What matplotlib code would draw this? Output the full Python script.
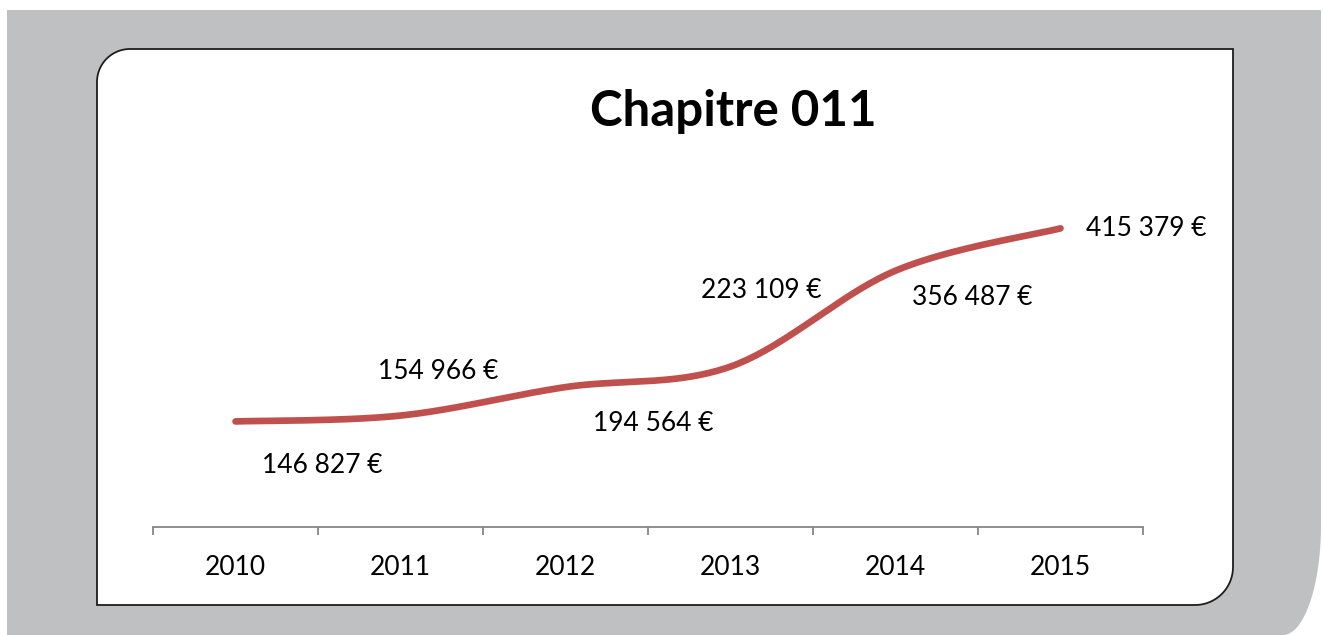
import numpy as np
import matplotlib.pyplot as plt
from matplotlib.patches import Polygon

plt.rcParams['font.family'] = ['Lato', 'DejaVu Sans']

# data
years = ['2010', '2011', '2012', '2013', '2014', '2015']
values = [146827, 154966, 194564, 223109, 356487, 415379]
# label offsets (pixels) relative to each point, as placed in the original
label_dx = [87, 38, 88, 31, 77, 26]
label_dy = [-44, 44, -36, 76, -27, 0]
label_ha = ['center', 'center', 'center', 'center', 'center', 'left']

W, H = 1323, 635
fig = plt.figure(figsize=(W / 100, H / 100), dpi=100)
fig.patch.set_facecolor('white')


def rounded_rect(x0, y0, x1, y1, radii, n=30):
    # radii: (rx, ry) for tl, tr, br, bl ; y axis points down
    (tlx, tly), (trx, try_), (brx, bry), (blx, bly) = radii
    corners = [
        (x0 + tlx, y0 + tly, tlx, tly, 180, 270),
        (x1 - trx, y0 + try_, trx, try_, 270, 360),
        (x1 - brx, y1 - bry, brx, bry, 0, 90),
        (x0 + blx, y1 - bly, blx, bly, 90, 180),
    ]
    pts = []
    for cx, cy, rx, ry, a0, a1 in corners:
        t = np.radians(np.linspace(a0, a1, n))
        pts.extend(zip(cx + rx * np.cos(t), cy + ry * np.sin(t)))
    return np.array(pts)


# background decoration
bg = fig.add_axes([0, 0, 1, 1])
bg.set_xlim(0, W)
bg.set_ylim(H, 0)
bg.axis('off')
bg.add_patch(Polygon(rounded_rect(7, 10, 1321, 635, [(0, 0), (0, 0), (38, 110), (0, 0)]),
                     closed=True, facecolor='#bfc0c2', edgecolor='none'))
bg.add_patch(Polygon(rounded_rect(97, 49, 1233, 605, [(33, 33), (0, 0), (38, 38), (0, 0)]),
                     closed=True, facecolor='white', edgecolor='#1e1e1e', linewidth=1.3))

# chart axes
y0_px, y_top_px = 527, 167.5
ax = fig.add_axes([153 / W, (H - y0_px) / H, (1143 - 153) / W, (y0_px - y_top_px) / H])
ax.patch.set_alpha(0)
x = np.arange(len(years))


def smooth(xs, ys, n=40):
    # Catmull-Rom style smoothing like the spreadsheet "smoothed line"
    px = np.concatenate([[xs[0]], xs, [xs[-1]]])
    py = np.concatenate([[ys[0]], ys, [ys[-1]]])
    outx, outy = [], []
    t = np.linspace(0, 1, n)
    for i in range(1, len(px) - 2):
        p0, p1, p2, p3 = (np.array([px[j], py[j]], dtype=float) for j in range(i - 1, i + 3))
        c1 = p1 + (p2 - p0) / 6
        c2 = p2 - (p3 - p1) / 6
        b = ((1 - t) ** 3)[:, None] * p1 + (3 * (1 - t) ** 2 * t)[:, None] * c1 \
            + (3 * (1 - t) * t ** 2)[:, None] * c2 + (t ** 3)[:, None] * p2
        outx.extend(b[:, 0])
        outy.extend(b[:, 1])
    return np.array(outx), np.array(outy)


sx, sy = smooth(x, np.array(values, dtype=float))
ax.plot(sx, sy, color='#c0504d', linewidth=4.8, solid_capstyle='round')

for i, v in enumerate(values):
    txt = f"{v:,}".replace(",", " ") + " €"
    ax.annotate(txt, (x[i], v), xytext=(label_dx[i], label_dy[i]), textcoords='offset pixels',
                ha=label_ha[i], va='center', fontsize=19, color='black')

ax.set_xlim(-0.5, len(years) - 0.5)
ax.set_ylim(0, 500000)
for s in ['top', 'right', 'left']:
    ax.spines[s].set_visible(False)
ax.spines['bottom'].set_color('#868686')
ax.spines['bottom'].set_linewidth(1.3)
ax.set_yticks([])
ax.set_xticks(np.arange(-0.5, len(years), 1.0))
ax.set_xticklabels([])
ax.tick_params(axis='x', which='major', direction='out', length=6, width=1.3, color='#868686')
ax.set_xticks(x, minor=True)
ax.set_xticklabels(years, minor=True, fontsize=19)
ax.tick_params(axis='x', which='minor', length=0, pad=20)

fig.text(733 / W, 1 - 111 / H, 'Chapitre 011', ha='center', va='center',
         fontsize=35.5, fontweight='bold')

fig.savefig('out.png', dpi=100)
